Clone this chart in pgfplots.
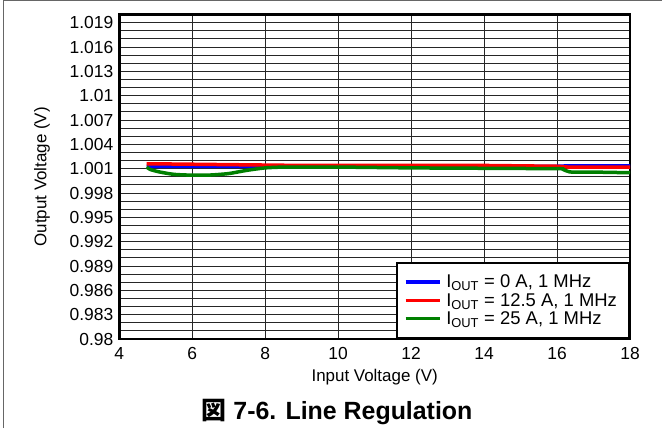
\documentclass[border=0pt]{standalone}
\usepackage{pgfplots}
\pgfplotsset{compat=1.18}
\usepackage{fontspec}
\setmainfont{Liberation Sans}
\newfontfamily\cjk{Noto Sans CJK JP}
\definecolor{cblue}{RGB}{0,0,255}
\definecolor{cred}{RGB}{255,0,0}
\definecolor{cgreen}{RGB}{0,128,0}
\begin{document}
\begin{tikzpicture}[x=1bp,y=1bp]
\path[use as bounding box] (0,0) rectangle (662,428);
\draw[black!60, line width=1.2bp] (3.3,0) -- (3.3,427.2) -- (662,427.2);
\begin{axis}[
  at={(119.3bp,89bp)}, anchor=south west,
  scale only axis, width=510.7bp, height=324.4bp,
  xmin=4, xmax=18, ymin=0.98, ymax=1.02,
  xtick={4,6,8,10,12,14,16,18},
  xticklabels={4,6,8,10,12,14,16,18},
  ytick={0.98,0.983,0.986,0.989,0.992,0.995,0.998,1.001,1.004,1.007,1.01,1.013,1.016,1.019},
  yticklabels={0.98,0.983,0.986,0.989,0.992,0.995,0.998,1.001,1.004,1.007,1.01,1.013,1.016,1.019},
  scaled y ticks=false,
  minor y tick num=2,
  major tick length=0pt, minor tick length=0pt,
  xmajorgrids, ymajorgrids, yminorgrids,
  major grid style={black!85, line width=0.9bp},
  minor grid style={black!85, line width=0.9bp},
  axis line style={line width=2.5bp},
  tick label style={font=\fontsize{17.5}{20}\selectfont},
  xticklabel style={yshift=-5bp},
  yticklabel style={xshift=-2.5bp},
  xlabel={Input Voltage (V)},
  ylabel={Output Voltage (V)},
  label style={font=\fontsize{17}{20}\selectfont},
  xlabel style={at={(axis description cs:0.5,-0.1162)}, anchor=center},
  ylabel style={at={(axis description cs:-0.1514,0.5)}, anchor=center},
  legend cell align=left,
  legend image code/.code={\draw[#1] (0bp,0bp) -- (34bp,0bp);},
  legend style={at={(rel axis cs:1,0)}, anchor=south east, draw=black,
    line width=2.2bp, fill=white,
    font=\fontsize{18.5}{20}\selectfont,
    inner xsep=7bp, inner ysep=10bp, row sep=0bp, column sep=0bp,
    nodes={inner xsep=5bp, inner ysep=2bp}},
]
\addplot[cblue, line width=3.5bp] coordinates {
(4.75,1.0013) (5,1.0013) (6,1.0013) (7,1.0013) (8,1.0013) (10,1.0013) (12,1.0013) (14,1.0013) (16,1.0013) (16.3,1.00135) (18,1.00135)};
\addlegendentry{I\textsubscript{OUT} = 0 A, 1 MHz}
\addplot[cred, line width=3.5bp] coordinates {
(4.75,1.0016) (5,1.0016) (6,1.00155) (7,1.0015) (8,1.00145) (9,1.0014) (10,1.0014) (12,1.0014) (14,1.0014) (16,1.0013) (16.3,1.0012) (18,1.0012)};
\addlegendentry{I\textsubscript{OUT} = 12.5 A, 1 MHz}
\addplot[cgreen, line width=3.5bp, smooth, tension=0.4] coordinates {
(4.75,1.0012) (4.85,1.0009) (5.1,1.0006) (5.5,1.0003) (6,1.0002) (6.5,1.00022) (7,1.0004) (7.5,1.0008) (8,1.0011) (8.5,1.0012) (9,1.0012) (10,1.0012) (12,1.0011) (14,1.00105) (16,1.0010) (16.15,1.00095) (16.35,1.0006) (17,1.00058) (18,1.0005)};
\addlegendentry{I\textsubscript{OUT} = 25 A, 1 MHz}
\end{axis}
\node[font=\fontsize{25}{28}\selectfont\bfseries] at (337,16) {{\cjk 図} 7-6. Line Regulation};
\end{tikzpicture}
\end{document}
